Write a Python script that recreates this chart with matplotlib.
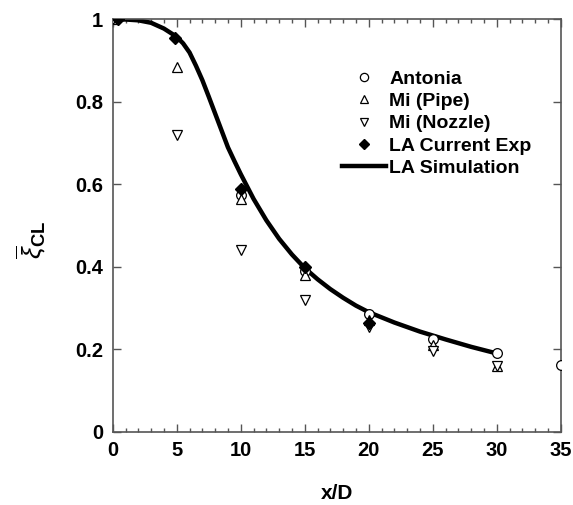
import matplotlib
matplotlib.use("Agg")
import matplotlib.pyplot as plt
from matplotlib.ticker import MultipleLocator

plt.rcParams['font.family'] = ['Liberation Sans', 'DejaVu Sans']
plt.rcParams['mathtext.fontset'] = 'custom'
plt.rcParams['mathtext.rm'] = 'Liberation Sans:bold'
plt.rcParams['mathtext.it'] = 'Liberation Sans:italic'
plt.rcParams['mathtext.bf'] = 'Liberation Sans:bold'

# Data
antonia_x = [0, 10, 15, 20, 25, 30, 35]
antonia_y = [1.0, 0.575, 0.39, 0.285, 0.225, 0.19, 0.163]

pipe_x = [0, 5, 10, 15, 20, 25, 30]
pipe_y = [1.0, 0.885, 0.565, 0.38, 0.27, 0.21, 0.16]

nozzle_x = [0, 5, 10, 15, 20, 25, 30]
nozzle_y = [1.0, 0.72, 0.44, 0.32, 0.255, 0.195, 0.16]

exp_x = [0.4, 4.9, 10, 15, 20]
exp_y = [1.0, 0.955, 0.59, 0.40, 0.265]

sim_x = [0, 1, 2, 3, 4, 5, 5.5, 6, 6.5, 7, 7.5, 8, 8.5, 9, 9.5, 10, 11, 12, 13, 14, 15,
         16, 17, 18, 19, 20, 22, 24, 26, 28, 30]
sim_y = [1.0, 1.0, 0.998, 0.992, 0.978, 0.958, 0.942, 0.92, 0.888, 0.853, 0.813, 0.772,
         0.731, 0.69, 0.657, 0.625, 0.565, 0.513, 0.468, 0.43, 0.397,
         0.37, 0.346, 0.325, 0.306, 0.29, 0.265, 0.243, 0.224, 0.206, 0.19]

fig = plt.figure(figsize=(5.73, 5.05), dpi=100)
ax = fig.add_axes([0.1967, 0.145, 0.782, 0.8164])

ax.plot(sim_x, sim_y, color='black', lw=3.2, label='LA Simulation', zorder=2)
ax.plot(antonia_x, antonia_y, ls='none', marker='o', ms=7, mfc='white', mec='black', mew=0.9,
        label='Antonia', zorder=3)
ax.plot(pipe_x, pipe_y, ls='none', marker='^', ms=7, mfc='white', mec='black', mew=0.9,
        label='Mi (Pipe)', zorder=3)
ax.plot(nozzle_x, nozzle_y, ls='none', marker='v', ms=7, mfc='white', mec='black', mew=0.9,
        label='Mi (Nozzle)', zorder=3)
ax.plot(exp_x, exp_y, ls='none', marker='D', ms=6.5, mfc='black', mec='black',
        label='LA Current Exp', zorder=4)

ax.set_xlim(0, 35)
ax.set_ylim(0, 1)
ax.xaxis.set_major_locator(MultipleLocator(5))
ax.xaxis.set_minor_locator(MultipleLocator(1))
ax.set_yticks([0, 0.2, 0.4, 0.6, 0.8, 1.0])
ax.set_yticklabels(['0', '0.2', '0.4', '0.6', '0.8', '1'])

ax.tick_params(axis='both', which='major', direction='in', length=6, width=1, color='#555555',
               top=True, right=True, labelsize=14.5, pad=7)
ax.tick_params(axis='x', which='minor', direction='in', length=3, width=1, color='#555555',
               top=True, bottom=True)
for lab in ax.get_xticklabels() + ax.get_yticklabels():
    lab.set_fontweight('bold')
for sp in ax.spines.values():
    sp.set_color('#555555')
    sp.set_linewidth(1.2)

ax.set_xlabel('x/D', fontsize=15, fontweight='bold', labelpad=17)
fig.text(0.055, 0.525, r'$\overline{\xi}_{\mathrm{CL}}$', rotation=90, fontsize=19,
         ha='center', va='center')

handles, labels = ax.get_legend_handles_labels()
order = [1, 2, 3, 4, 0]
leg = ax.legend([handles[i] for i in order], [labels[i] for i in order],
                loc='upper left', bbox_to_anchor=(0.511, 0.877), frameon=False,
                prop={'weight': 'bold', 'size': 14}, handlelength=2.3, handletextpad=0.15,
                labelspacing=0.24, borderaxespad=0, borderpad=0, markerscale=0.85)

fig.savefig('out.png', dpi=100)
